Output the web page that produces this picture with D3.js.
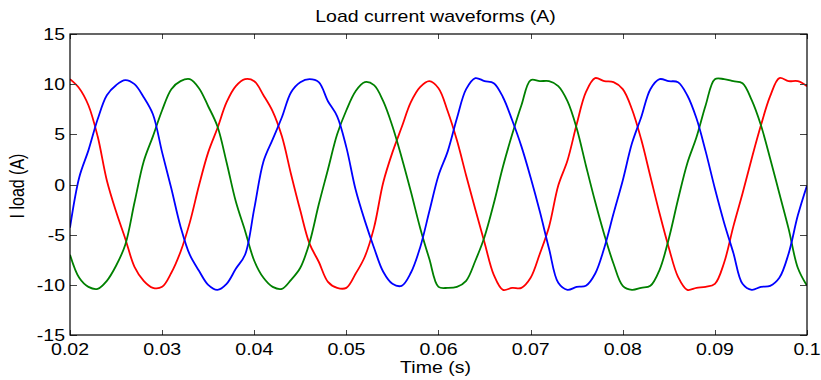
<!DOCTYPE html>
<html>
<head>
<meta charset="utf-8">
<script src="https://cdn.jsdelivr.net/npm/d3@7"></script>
<style>
  html, body { margin: 0; padding: 0; background: #fff; }
  svg { display: block; }
  text { font-family: "Liberation Sans", Arial, sans-serif; fill: #000; }
</style>
</head>
<body>
<svg id="chart" width="821" height="380"></svg>
<script>
// ---- data ----
const timeS = [
  0.020,0.021,0.022,0.023,0.024,0.025,0.026,0.027,0.028,0.029,
  0.030,0.031,0.032,0.033,0.034,0.035,0.036,0.037,0.038,0.039,
  0.040,0.041,0.042,0.043,0.044,0.045,0.046,0.047,0.048,0.049,
  0.050,0.051,0.052,0.053,0.054,0.055,0.056,0.057,0.058,0.059,
  0.060,0.061,0.062,0.063,0.064,0.065,0.066,0.067,0.068,0.069,
  0.070,0.071,0.072,0.073,0.074,0.075,0.076,0.077,0.078,0.079,
  0.080,0.081,0.082,0.083,0.084,0.085,0.086,0.087,0.088,0.089,
  0.090,0.091,0.092,0.093,0.094,0.095,0.096,0.097,0.098,0.099,
  0.100
];
const phaseBlue = [
  -4.3,0.7,3.4,6.5,8.9,9.9,10.4,10.0,8.7,7.0,
  3.2,-0.4,-4.2,-7.0,-8.6,-10.0,-10.5,-9.9,-8.4,-7.0,
  -2.4,2.3,4.5,6.7,9.2,10.2,10.5,10.2,8.3,6.8,
  3.7,-0.5,-3.6,-6.3,-8.7,-9.9,-10.1,-8.8,-6.3,-2.7,
  0.9,3.3,6.6,9.5,10.6,10.3,10.1,8.7,6.4,3.8,
  0.7,-2.7,-6.4,-9.8,-10.5,-10.2,-10.1,-8.9,-6.3,-2.9,
  0.4,4.1,6.7,9.5,10.5,10.3,10.2,8.9,6.6,3.3,
  -0.4,-3.8,-6.8,-9.9,-10.5,-10.2,-10.1,-9.3,-6.9,-3.1,
  -0.1
];
const phaseRed = [
  10.5,9.6,7.9,4.8,0.4,-2.7,-5.4,-8.2,-9.6,-10.3,
  -10.2,-8.8,-6.7,-3.8,-0.1,3.2,5.6,8.2,9.8,10.5,
  10.3,8.9,7.3,4.8,1.0,-2.6,-5.9,-7.7,-9.7,-10.3,
  -10.3,-8.9,-7.2,-4.3,0.2,3.2,5.7,8.2,9.7,10.3,
  9.6,7.3,4.4,0.9,-2.5,-5.8,-9.0,-10.5,-10.3,-10.3,
  -9.3,-6.9,-4.2,-0.1,2.4,6.0,9.2,10.6,10.3,10.2,
  9.5,7.5,4.5,0.8,-2.9,-6.3,-9.2,-10.5,-10.3,-10.2,
  -9.9,-7.8,-4.2,-0.9,2.6,5.9,8.8,10.6,10.3,10.3,
  9.8
];
const phaseGreen = [
  -7.0,-9.3,-10.2,-10.4,-9.6,-8.1,-6.0,-1.8,2.3,4.8,
  7.4,9.5,10.3,10.5,9.6,7.8,5.8,2.2,-1.7,-4.6,
  -7.6,-9.3,-10.2,-10.4,-9.5,-8.3,-5.8,-2.0,1.5,5.0,
  7.4,9.3,10.2,9.9,8.3,5.8,2.7,-0.7,-4.3,-7.4,
  -10.2,-10.3,-10.2,-9.6,-7.6,-5.2,-1.9,1.8,5.0,7.9,
  10.4,10.3,10.3,9.8,8.3,5.6,1.9,-1.7,-5.0,-7.9,
  -10.1,-10.5,-10.3,-10.1,-8.5,-5.4,-1.5,2.1,4.7,7.9,
  10.5,10.5,10.3,10.1,8.4,5.9,2.6,-0.9,-4.4,-8.3,
  -10.1
];
const seriesColors = ["#ff0000", "#008000", "#0000ff"];
const xTickValues = [0.02,0.03,0.04,0.05,0.06,0.07,0.08,0.09,0.1];
const xTickLabels = ["0.02","0.03","0.04","0.05","0.06","0.07","0.08","0.09","0.1"];
const yTickValues = [15,10,5,0,-5,-10,-15];
const yTickLabels = ["15","10","5","0","-5","-10","-15"];
const titleText = "Load current waveforms (A)";
const xLabelText = "Time (s)";
const yLabelText = "I load (A)";

// ---- layout ----
const plot = { left: 70, right: 807, top: 34, bottom: 335 };
const stretch = 1.22;
const fontSize = 16;

const svg = d3.select("#chart");
const x = d3.scaleLinear().domain([0.02, 0.1]).range([plot.left, plot.right]);
const y = d3.scaleLinear().domain([-15, 15]).range([plot.bottom, plot.top]);

svg.append("defs").append("clipPath").attr("id", "clip")
  .append("rect")
  .attr("x", plot.left).attr("y", plot.top)
  .attr("width", plot.right - plot.left).attr("height", plot.bottom - plot.top);

// traces
const line = d3.line()
  .x((d, i) => x(timeS[i]))
  .y(d => y(d))
  .curve(d3.curveCatmullRom.alpha(0.5));

const g = svg.append("g").attr("clip-path", "url(#clip)");
[phaseRed, phaseGreen, phaseBlue].forEach((s, k) => {
  g.append("path")
    .datum(s)
    .attr("fill", "none")
    .attr("stroke", seriesColors[k])
    .attr("stroke-width", 1.8)
    .attr("stroke-linejoin", "round")
    .attr("d", line);
});

// ticks (inward, on all four sides)
const tickG = svg.append("g").attr("stroke", "#444").attr("stroke-width", 1);
xTickValues.forEach(v => {
  const px = Math.round(x(v)) + 0.5;
  tickG.append("line").attr("x1", px).attr("x2", px).attr("y1", plot.bottom).attr("y2", plot.bottom - 5);
  tickG.append("line").attr("x1", px).attr("x2", px).attr("y1", plot.top).attr("y2", plot.top + 5);
});
yTickValues.forEach(v => {
  const py = Math.round(y(v)) + 0.5;
  tickG.append("line").attr("x1", plot.left).attr("x2", plot.left + 7).attr("y1", py).attr("y2", py);
  tickG.append("line").attr("x1", plot.right).attr("x2", plot.right - 7).attr("y1", py).attr("y2", py);
});

// box
svg.append("rect")
  .attr("x", plot.left).attr("y", plot.top)
  .attr("width", plot.right - plot.left).attr("height", plot.bottom - plot.top)
  .attr("fill", "none").attr("stroke", "#000").attr("stroke-width", 1.2);

function stretchedText(tx, ty, str, anchor, rotated) {
  const tf = rotated
    ? `translate(${tx},${ty}) rotate(-90) scale(1,${stretch})`
    : `translate(${tx},${ty}) scale(${stretch},1)`;
  return svg.append("text")
    .attr("transform", tf)
    .attr("text-anchor", anchor)
    .attr("font-size", fontSize)
    .text(str);
}

// tick labels
xTickValues.forEach((v, i) => stretchedText(x(v), 355, xTickLabels[i], "middle"));
yTickValues.forEach((v, i) => stretchedText(65, y(v) + 6, yTickLabels[i], "end"));

// titles
stretchedText((plot.left + plot.right) / 2 - 3, 22, titleText, "middle");
stretchedText((plot.left + plot.right) / 2 - 3, 373, xLabelText, "middle");
stretchedText(24, 186, yLabelText, "middle", true);
</script>
</body>
</html>
